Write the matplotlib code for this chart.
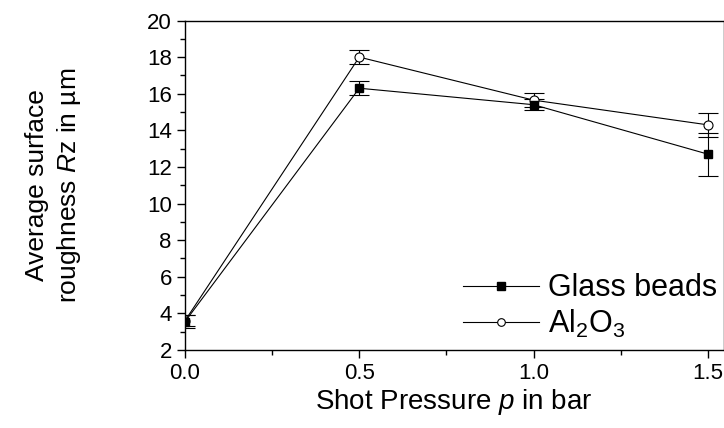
import matplotlib
matplotlib.use("Agg")
import matplotlib.pyplot as plt
from matplotlib.lines import Line2D
from matplotlib.ticker import MultipleLocator, FormatStrFormatter

plt.rcParams['font.family'] = ['Liberation Sans', 'DejaVu Sans']
plt.rcParams['mathtext.fontset'] = 'custom'
plt.rcParams['mathtext.rm'] = 'Liberation Sans'
plt.rcParams['mathtext.it'] = 'Liberation Sans:italic'

# shot pressure in bar
pressure = [0.0, 0.5, 1.0, 1.5]

# average roughness Rz in um
glass_rz = [3.55, 16.3, 15.4, 12.7]
glass_err = [0.35, 0.37, 0.3, 1.18]
al2o3_rz = [3.6, 18.0, 15.65, 14.3]
al2o3_err = [0.3, 0.4, 0.4, 0.66]

fig = plt.figure(figsize=(7.24, 4.28), dpi=100)
ax = fig.add_axes([185 / 724, 1 - 350 / 428, 538.5 / 724, 329.5 / 428])

ax.errorbar(pressure, al2o3_rz, yerr=al2o3_err, color='black', lw=0.8,
            marker='o', ms=6.5, mfc='white', mec='black', mew=0.8,
            capsize=7, capthick=0.8, elinewidth=0.8)
ax.errorbar(pressure, glass_rz, yerr=glass_err, color='black', lw=0.8,
            marker='s', ms=6, mfc='black', mec='black',
            capsize=7, capthick=0.8, elinewidth=0.8)

ax.set_xlim(0, 1.545)
ax.set_ylim(2, 20)
ax.xaxis.set_major_locator(MultipleLocator(0.5))
ax.xaxis.set_minor_locator(MultipleLocator(0.25))
ax.yaxis.set_major_locator(MultipleLocator(2))
ax.yaxis.set_minor_locator(MultipleLocator(1))
ax.xaxis.set_major_formatter(FormatStrFormatter('%.1f'))
ax.tick_params(which='major', direction='out', length=6, width=1, labelsize=16)
ax.tick_params(which='minor', direction='out', length=3.5, width=1)
for s in ax.spines.values():
    s.set_linewidth(1)

ax.set_xlabel('Shot Pressure $\\mathit{p}$ in bar', fontsize=20, labelpad=2)
ax.set_ylabel('Average surface\nroughness $\\mathit{R}$z in µm', fontsize=19,
              labelpad=46, linespacing=1.3)

# legend handles: plain line with marker, no error bars
handles = [
    Line2D([], [], color='black', lw=0.8, marker='s', ms=6, mfc='black'),
    Line2D([], [], color='black', lw=0.8, marker='o', ms=5.5, mfc='white', mew=0.8),
]
ax.legend(handles, ['Glass beads', 'Al$_2$O$_3$'], loc='lower right',
          bbox_to_anchor=(1.0, 0.012), frameon=False, fontsize=22,
          handlelength=2.5, handletextpad=0.3, labelspacing=0.15,
          numpoints=1, borderaxespad=0, borderpad=0.2)

fig.savefig('out.png', dpi=100)
